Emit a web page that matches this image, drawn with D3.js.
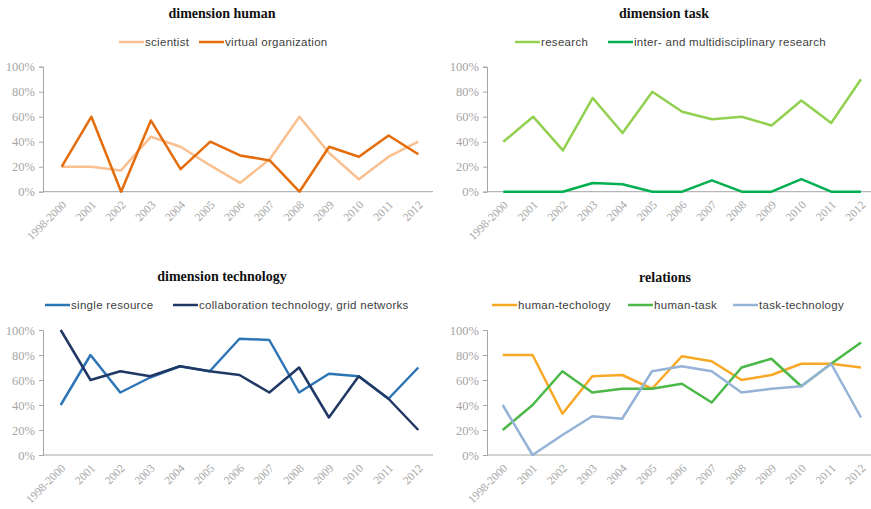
<!DOCTYPE html>
<html>
<head>
<meta charset="utf-8">
<script src="https://cdnjs.cloudflare.com/ajax/libs/d3/7.8.5/d3.min.js"></script>
<style>
  body { margin: 0; background: #fff; }
  .tick text { fill: #a6a6a6; font-family: "Liberation Serif", serif; }
  .legend text { fill: #404040; font-family: "Liberation Sans", "DejaVu Sans", sans-serif; font-size: 11.5px; letter-spacing: 0.3px; }
  .title { font-family: "Liberation Serif", serif; font-weight: bold; font-size: 14px; fill: #111; }
</style>
</head>
<body>
<div id="chart"></div>
<script>
var years = ["1998-2000","2001","2002","2003","2004","2005","2006","2007","2008","2009","2010","2011","2012"];
var yTicks = [0, 0.2, 0.4, 0.6, 0.8, 1];

// dimension human
var scientist   = [20,20,17,44,36,21,7,26,60,31,10,28,40];
var virtualOrg  = [20,60,0,57,18,40,29,25,0,36,28,45,30];
// dimension task
var research    = [40,60,33,75,47,80,64,58,60,53,73,55,90];
var interMulti  = [0,0,0,7,6,0,0,9,0,0,10,0,0];
// dimension technology
var singleRes   = [40,80,50,62,71,67,93,92,50,65,63,45,70];
var collabTech  = [100,60,67,63,71,67,64,50,70,30,63,45,20];
// relations
var humanTechology = [80,80,33,63,64,53,79,75,60,64,73,73,70];
var humanTask      = [20,40,67,50,53,53,57,42,70,77,55,73,90];
var taskTechnology = [40,0,16,31,29,67,71,67,50,53,55,73,30];

var width = 871, height = 509;

var svg = d3.select("#chart")
    .append("svg")
    .attr("width", width)
    .attr("height", height);

// panel layout
var panels = [
    {title: "dimension human", tx: 222, ty: 18, ly: 46,
     xl: 43, x0: 61.7, x1: 418.3, xr: 433, yTop: 66.7, yBot: 191.7,
     series: [
        {name: "scientist", values: scientist, color: "#fac090", lx: 119},
        {name: "virtual organization", values: virtualOrg, color: "#e46c0a", lx: 199}
     ]},
    {title: "dimension task", tx: 664, ty: 18, ly: 46,
     xl: 487, x0: 503.3, x1: 861, xr: 871, yTop: 66.7, yBot: 191.7,
     series: [
        {name: "research", values: research, color: "#92d050", lx: 515},
        {name: "inter- and multidisciplinary research", values: interMulti, color: "#00b050", lx: 608}
     ]},
    {title: "dimension technology", tx: 222, ty: 281, ly: 309,
     xl: 43, x0: 60.7, x1: 418.3, xr: 433, yTop: 330, yBot: 455,
     series: [
        {name: "single resource", values: singleRes, color: "#2e75b6", lx: 45},
        {name: "collaboration technology, grid networks", values: collabTech, color: "#1f3864", lx: 173}
     ]},
    {title: "relations", tx: 665, ty: 282, ly: 309,
     xl: 487, x0: 502.7, x1: 861, xr: 871, yTop: 330, yBot: 455,
     series: [
        {name: "human-techology", values: humanTechology, color: "#f9a825", lx: 492},
        {name: "human-task", values: humanTask, color: "#4cb848", lx: 628},
        {name: "task-technology", values: taskTechnology, color: "#95b3d7", lx: 733}
     ]}
];

panels.forEach(function(p) {
    var g = svg.append("g");

    var x = d3.scalePoint().domain(years).range([p.x0, p.x1]);
    var y = d3.scaleLinear().domain([0, 1]).range([p.yBot, p.yTop]);

    // title
    g.append("text")
        .attr("class", "title")
        .attr("x", p.tx)
        .attr("y", p.ty)
        .attr("text-anchor", "middle")
        .text(p.title);

    // legend
    var leg = g.append("g").attr("class", "legend");
    p.series.forEach(function(s) {
        leg.append("line")
            .attr("x1", s.lx).attr("x2", s.lx + 25)
            .attr("y1", p.ly - 4).attr("y2", p.ly - 4)
            .style("stroke", s.color)
            .style("stroke-width", 2.5);
        leg.append("text")
            .attr("x", s.lx + 26)
            .attr("y", p.ly)
            .text(s.name);
    });

    // y axis
    var yAxis = g.append("g")
        .attr("transform", "translate(" + p.xl + ",0)")
        .call(d3.axisLeft(y).tickValues(yTicks).tickFormat(d3.format(".0%")).tickSizeOuter(0).tickSize(4).tickPadding(4));
    yAxis.selectAll("path, line").style("stroke", "#a6a6a6");
    yAxis.selectAll("text").style("font-size", "12.5px");

    // x axis
    var xAxis = g.append("g")
        .attr("transform", "translate(0," + p.yBot + ")")
        .call(d3.axisBottom(x).tickSize(0).tickPadding(6));
    xAxis.select(".domain").remove();
    xAxis.selectAll("text")
        .style("font-size", "11.5px")
        .attr("text-anchor", "end")
        .attr("transform", "translate(2,11) rotate(-45)")
        .attr("dy", "0.35em")
        .attr("y", 0)
        .attr("x", 0);
    g.append("line")
        .attr("x1", p.xl).attr("x2", p.xr)
        .attr("y1", p.yBot).attr("y2", p.yBot)
        .style("stroke", "#a6a6a6")
        .style("stroke-width", 1);

    // lines
    var line = d3.line()
        .x(function(d, i) { return x(years[i]); })
        .y(function(d) { return y(d / 100); });

    p.series.forEach(function(s) {
        g.append("path")
            .datum(s.values)
            .attr("d", line)
            .style("fill", "none")
            .style("stroke", s.color)
            .style("stroke-width", 2.5)
            .style("stroke-linejoin", "round");
    });
});
</script>
</body>
</html>
